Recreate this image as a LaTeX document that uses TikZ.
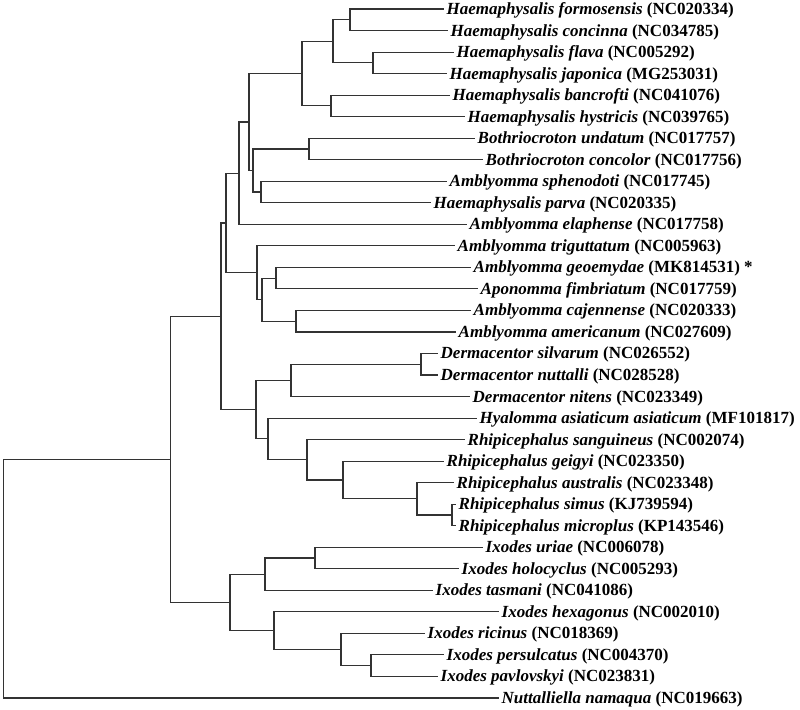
\documentclass[tikz,border=0pt]{standalone}
\usepackage{fontspec}
\setmainfont{Liberation Serif}
\newcommand\taxon[2]{\textbf{\textit{#1}} \textbf{(#2)}}
\begin{document}
\begin{tikzpicture}[x=1bp,y=-1bp,
  branch/.style={line width=1.1bp, draw=black!80, line cap=rect},
  leaf/.style={anchor=west, inner xsep=3.5bp, inner ysep=0pt, text height=13bp, text depth=2bp,
    font=\fontsize{17bp}{20bp}\selectfont}]
\useasboundingbox (0,0) rectangle (800,710);
% leaves
\node[leaf] (t1) at (443,9.00) {\taxon{Haemaphysalis formosensis}{NC020334}};
\node[leaf] (t2) at (447,30.53) {\taxon{Haemaphysalis concinna}{NC034785}};
\node[leaf] (t3) at (453,52.06) {\taxon{Haemaphysalis flava}{NC005292}};
\node[leaf] (t4) at (446,73.59) {\taxon{Haemaphysalis japonica}{MG253031}};
\node[leaf] (t5) at (449,95.12) {\taxon{Haemaphysalis bancrofti}{NC041076}};
\node[leaf] (t6) at (464,116.65) {\taxon{Haemaphysalis hystricis}{NC039765}};
\node[leaf] (t7) at (474,138.18) {\taxon{Bothriocroton undatum}{NC017757}};
\node[leaf] (t8) at (482,159.71) {\taxon{Bothriocroton concolor}{NC017756}};
\node[leaf] (t9) at (446,181.24) {\taxon{Amblyomma sphenodoti}{NC017745}};
\node[leaf] (t10) at (430,202.77) {\taxon{Haemaphysalis parva}{NC020335}};
\node[leaf] (t11) at (466,224.3) {\taxon{Amblyomma elaphense}{NC017758}};
\node[leaf] (t12) at (454,245.83) {\taxon{Amblyomma triguttatum}{NC005963}};
\node[leaf] (t13) at (470,267.36) {\taxon{Amblyomma geoemydae}{MK814531} \textbf{*}};
\node[leaf] (t14) at (477,288.89) {\taxon{Aponomma fimbriatum}{NC017759}};
\node[leaf] (t15) at (470,310.42) {\taxon{Amblyomma cajennense}{NC020333}};
\node[leaf] (t16) at (455,331.95) {\taxon{Amblyomma americanum}{NC027609}};
\node[leaf] (t17) at (437,353.48) {\taxon{Dermacentor silvarum}{NC026552}};
\node[leaf] (t18) at (437,375.01) {\taxon{Dermacentor nuttalli}{NC028528}};
\node[leaf] (t19) at (469,396.54) {\taxon{Dermacentor nitens}{NC023349}};
\node[leaf] (t20) at (476,418.07) {\taxon{Hyalomma asiaticum asiaticum}{MF101817}};
\node[leaf] (t21) at (464,439.6) {\taxon{Rhipicephalus sanguineus}{NC002074}};
\node[leaf] (t22) at (443,461.13) {\taxon{Rhipicephalus geigyi}{NC023350}};
\node[leaf] (t23) at (453,482.66) {\taxon{Rhipicephalus australis}{NC023348}};
\node[leaf] (t24) at (455,504.19) {\taxon{Rhipicephalus simus}{KJ739594}};
\node[leaf] (t25) at (455,525.72) {\taxon{Rhipicephalus microplus}{KP143546}};
\node[leaf] (t26) at (482,547.25) {\taxon{Ixodes uriae}{NC006078}};
\node[leaf] (t27) at (458,568.78) {\taxon{Ixodes holocyclus}{NC005293}};
\node[leaf] (t28) at (432,590.31) {\taxon{Ixodes tasmani}{NC041086}};
\node[leaf] (t29) at (498,611.84) {\taxon{Ixodes hexagonus}{NC002010}};
\node[leaf] (t30) at (424,633.37) {\taxon{Ixodes ricinus}{NC018369}};
\node[leaf] (t31) at (443,654.9) {\taxon{Ixodes persulcatus}{NC004370}};
\node[leaf] (t32) at (437,676.43) {\taxon{Ixodes pavlovskyi}{NC023831}};
\node[leaf] (t33) at (498,697.96) {\taxon{Nuttalliella namaqua}{NC019663}};
% internal nodes
\coordinate (nA) at (350,19.77);
\coordinate (nB) at (373,62.83);
\coordinate (nC) at (333,41.30);
\coordinate (nD) at (331,105.89);
\coordinate (nE) at (302,73.59);
\coordinate (nF) at (309,148.95);
\coordinate (nG) at (261,192.00);
\coordinate (nH) at (253,170.47);
\coordinate (nI) at (249,122.03);
\coordinate (nJ) at (239,173.17);
\coordinate (nL) at (276,278.13);
\coordinate (nM) at (296,321.19);
\coordinate (nN) at (262,299.66);
\coordinate (nO) at (257,272.74);
\coordinate (nK) at (226,222.96);
\coordinate (nQ) at (421,364.25);
\coordinate (nR) at (291,380.39);
\coordinate (nX) at (452,514.96);
\coordinate (nW) at (417,498.81);
\coordinate (nV) at (343,479.97);
\coordinate (nU) at (307,459.78);
\coordinate (nT) at (268,438.93);
\coordinate (nS) at (256,409.66);
\coordinate (nP) at (221,316.31);
\coordinate (nY) at (315,558.02);
\coordinate (nZ) at (265,574.16);
\coordinate (nAA) at (371,665.67);
\coordinate (nAB) at (341,649.52);
\coordinate (nAC) at (274,630.68);
\coordinate (nAD) at (230,602.42);
\coordinate (nAE) at (170.5,459.36);
\coordinate (root) at (3.5,578.66);
% branches
\foreach \p/\c in {nA/t1.west, nA/t2.west, nB/t3.west, nB/t4.west, nC/nA, nC/nB,
  nD/t5.west, nD/t6.west, nE/nC, nE/nD, nF/t7.west, nF/t8.west, nG/t9.west, nG/t10.west,
  nH/nF, nH/nG, nI/nE, nI/nH, nJ/nI, nJ/t11.west, nL/t13.west, nL/t14.west,
  nM/t15.west, nM/t16.west, nN/nL, nN/nM, nO/t12.west, nO/nN, nK/nJ, nK/nO,
  nQ/t17.west, nQ/t18.west, nR/nQ, nR/t19.west, nX/t24.west, nX/t25.west,
  nW/t23.west, nW/nX, nV/t22.west, nV/nW, nU/t21.west, nU/nV, nT/t20.west, nT/nU,
  nS/nR, nS/nT, nP/nK, nP/nS, nY/t26.west, nY/t27.west, nZ/nY, nZ/t28.west,
  nAA/t31.west, nAA/t32.west, nAB/t30.west, nAB/nAA, nAC/t29.west, nAC/nAB,
  nAD/nZ, nAD/nAC, nAE/nP, nAE/nAD, root/nAE, root/t33.west}
  \draw[branch] (\p) |- (\c);
\end{tikzpicture}
\end{document}
